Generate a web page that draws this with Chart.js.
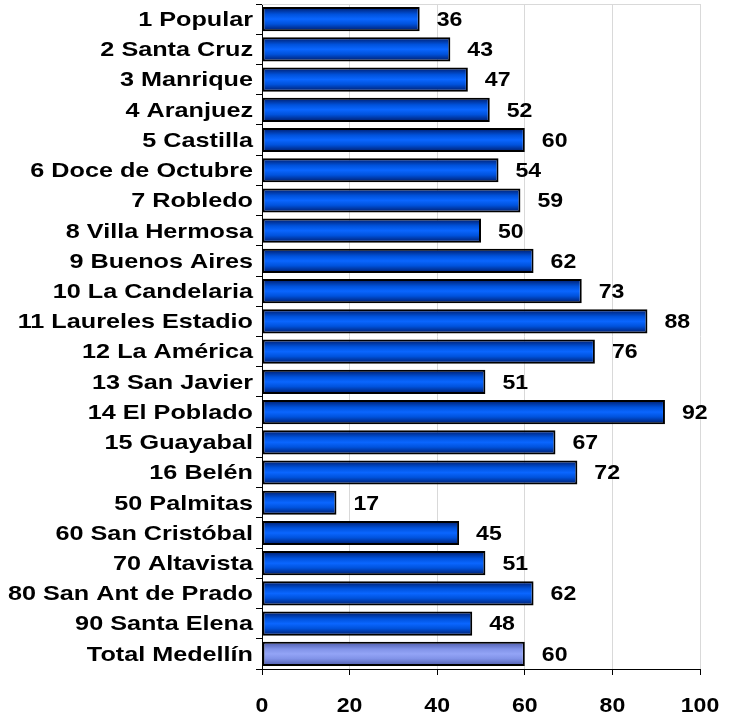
<!DOCTYPE html>
<html>
<head>
<meta charset="utf-8">
<script src="https://cdn.jsdelivr.net/npm/chart.js@4.4.0/dist/chart.umd.min.js"></script>
<style>
  html, body { margin: 0; padding: 0; background: #fff; }
  #wrap { width: 734px; height: 719px; position: relative; }
</style>
</head>
<body>
<div id="wrap"><canvas id="chart"></canvas></div>
<script>
// Comunas y corregimientos
const comunas = [
    '1 Popular', '2 Santa Cruz', '3 Manrique', '4 Aranjuez', '5 Castilla',
    '6 Doce de Octubre', '7 Robledo', '8 Villa Hermosa', '9 Buenos Aires',
    '10 La Candelaria', '11 Laureles Estadio', '12 La América', '13 San Javier',
    '14 El Poblado', '15 Guayabal', '16 Belén', '50 Palmitas', '60 San Cristóbal',
    '70 Altavista', '80 San Ant de Prado', '90 Santa Elena', 'Total Medellín'
];
const valores = [36, 43, 47, 52, 60, 54, 59, 50, 62, 73, 88, 76, 51, 92, 67, 72, 17, 45, 51, 62, 48, 60];
const xTicks = [0, 20, 40, 60, 80, 100];

const FONT = 'bold 21px Arial, "Liberation Sans", sans-serif';
// the original text is a bit wider than plain Arial
const STRETCH_NAMES = 1.2;
const STRETCH_NUMS = 1.1;

// gradient per bar (dark edges, bright middle)
function barFill(context) {
    const chart = context.chart;
    const y = chart.scales.y;
    if (!chart.chartArea || !y) return '#0a5ef0';
    const i = context.dataIndex;
    const yc = y.getPixelForValue(i);
    const h = 12;
    const g = chart.ctx.createLinearGradient(0, yc - h, 0, yc + h);
    if (i === comunas.length - 1) {
        g.addColorStop(0, '#4b58a8');
        g.addColorStop(0.3, '#8193e8');
        g.addColorStop(0.5, '#93a4f6');
        g.addColorStop(0.7, '#8193e8');
        g.addColorStop(1, '#4b58a8');
    } else {
        g.addColorStop(0, '#001a66');
        g.addColorStop(0.3, '#0052dc');
        g.addColorStop(0.5, '#0a66ff');
        g.addColorStop(0.7, '#0052dc');
        g.addColorStop(1, '#001a66');
    }
    return g;
}

function wideText(ctx, text, x, y, sx) {
    ctx.save();
    ctx.translate(x, y);
    ctx.scale(sx, 1);
    ctx.fillText(text, 0, 0);
    ctx.restore();
}

// category names, x tick labels and value labels
const textLayer = {
    id: 'textLayer',
    afterDraw(chart) {
        const ctx = chart.ctx;
        const xs = chart.scales.x;
        const ys = chart.scales.y;
        const meta = chart.getDatasetMeta(0);
        ctx.save();
        ctx.font = FONT;
        ctx.fillStyle = '#000';
        ctx.textBaseline = 'middle';

        ctx.textAlign = 'right';
        comunas.forEach((name, i) => {
            wideText(ctx, name, ys.right - 9, ys.getPixelForValue(i) + 1, STRETCH_NAMES);
        });

        ctx.textAlign = 'center';
        xTicks.forEach(v => {
            wideText(ctx, String(v), xs.getPixelForValue(v), xs.top + 37, STRETCH_NUMS);
        });

        ctx.textAlign = 'left';
        meta.data.forEach((bar, i) => {
            wideText(ctx, String(valores[i]), bar.x + 17, bar.y + 1, STRETCH_NUMS);
        });
        ctx.restore();
    }
};

// light top border of the plot area
const plotTop = {
    id: 'plotTop',
    beforeDatasetsDraw(chart) {
        const a = chart.chartArea;
        const ctx = chart.ctx;
        ctx.save();
        ctx.strokeStyle = '#d9d9d9';
        ctx.lineWidth = 1;
        ctx.beginPath();
        ctx.moveTo(a.left, a.top + 0.5);
        ctx.lineTo(a.right, a.top + 0.5);
        ctx.stroke();
        ctx.restore();
    }
};

new Chart(document.getElementById('chart').getContext('2d'), {
    type: 'bar',
    data: {
        labels: comunas,
        datasets: [{
            data: valores,
            backgroundColor: barFill,
            borderColor: '#000',
            borderWidth: 2,
            borderSkipped: false,
            categoryPercentage: 1,
            barPercentage: 0.8
        }]
    },
    options: {
        indexAxis: 'y',
        responsive: true,
        maintainAspectRatio: false,
        animation: false,
        layout: { padding: { top: 4, right: 34, left: 0, bottom: 0 } },
        plugins: {
            legend: { display: false },
            tooltip: { enabled: false }
        },
        scales: {
            x: {
                min: 0,
                max: 100,
                afterBuildTicks(scale) {
                    scale.ticks = xTicks.map(v => ({ value: v }));
                },
                afterFit(scale) { scale.height = 50; },
                border: { color: '#000', width: 1 },
                grid: {
                    color: '#d9d9d9',
                    tickColor: '#000',
                    tickLength: 6
                },
                ticks: { display: false }
            },
            y: {
                afterFit(scale) { scale.width = 262; },
                border: { color: '#000', width: 1 },
                grid: {
                    drawOnChartArea: false,
                    tickColor: '#000',
                    tickLength: 6
                },
                ticks: { display: false }
            }
        }
    },
    plugins: [plotTop, textLayer]
});
</script>
</body>
</html>
